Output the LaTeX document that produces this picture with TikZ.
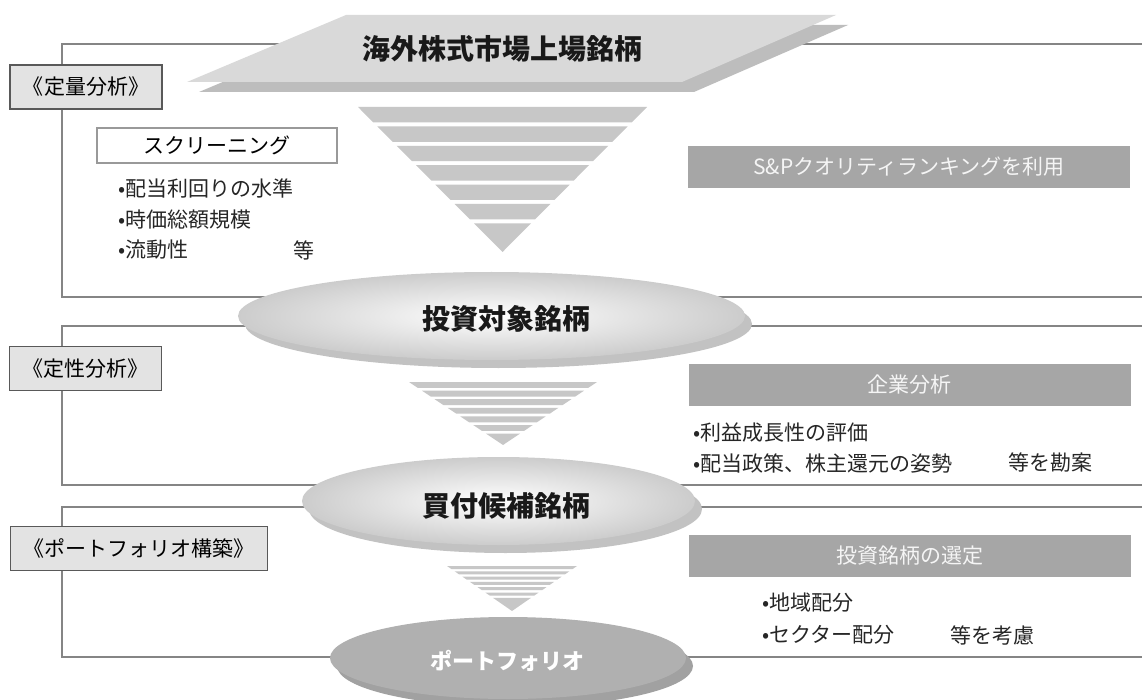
\documentclass[tikz,border=0pt]{standalone}
\usepackage{fontspec}
\setmainfont{Noto Sans CJK JP}
\usetikzlibrary{shapes.geometric,shadows}

\begin{document}
\begin{tikzpicture}[x=1pt,y=-1pt]
\tikzstyle{frame}=[draw=black!48, line width=2pt]
\tikzstyle{stage}=[rectangle, draw=black!65, line width=1.5pt, fill=black!11, minimum height=44pt, inner xsep=13pt, inner ysep=0pt, font=\fontsize{21}{24}\selectfont]
\tikzstyle{screen}=[rectangle, draw=black!40, line width=1.2pt, fill=white, minimum width=240pt, minimum height=35pt, font=\fontsize{21}{24}\selectfont]
\tikzstyle{bar}=[rectangle, fill=black!35, text=black!4, minimum width=442pt, minimum height=42pt, inner sep=0pt, font=\fontsize{21}{24}\selectfont]
\tikzstyle{item}=[anchor=west, inner sep=0pt, text=black!85, font=\fontsize{21}{24}\selectfont]
\tikzstyle{funnel}=[fill=black!22]
\tikzstyle{disc}=[ellipse, inner sep=0pt, inner color=white, outer color=black!20, drop shadow={shadow xshift=7pt, shadow yshift=-8pt, fill=black!24, opacity=1}]
\tikzstyle{darkdisc}=[ellipse, inner sep=0pt, fill=black!31, drop shadow={shadow xshift=7pt, shadow yshift=-8pt, fill=black!37, opacity=1}]
\tikzstyle{big}=[inner sep=0pt, text=black!90, font=\bfseries\fontsize{28}{30}\selectfont]
\useasboundingbox (0,0) rectangle (1142,700);
\fill[white] (0,0) rectangle (1142,700);
% brackets of the three steps
\draw[frame] (1142,44) -- (62,44) -- (62,297) -- (1142,297);
\draw[frame] (1142,326) -- (62,326) -- (62,485) -- (1142,485);
\draw[frame] (1142,507) -- (62,507) -- (62,657) -- (1142,657);
% listed stocks plate
\fill[black!26] (199,92) -- (358,25) -- (848,25) -- (694,92) -- cycle;
\fill[black!15] (187,82) -- (346,15) -- (836,15) -- (682,82) -- cycle;
\node[big] (src) at (502,49) {海外株式市場上場銘柄};
% funnels
\foreach \cx/\yt/\hw/\ya/\p/\g in {502.5/107/144.5/252/19.4/4, 503/382/94/445/8.6/2.7, 512/566/65/611/5.3/2.3}{
  \pgfmathsetmacro\k{\hw/(\ya-\yt)}
  \foreach \i in {0,...,5}{
    \pgfmathsetmacro\ys{\yt+\i*\p}
    \pgfmathsetmacro\ye{\ys+\p-\g}
    \pgfmathsetmacro\ws{\k*(\ya-\ys)}
    \pgfmathsetmacro\we{\k*(\ya-\ye)}
    \fill[funnel] (\cx-\ws,\ys) -- (\cx+\ws,\ys) -- (\cx+\we,\ye) -- (\cx-\we,\ye) -- cycle;
  }
  \pgfmathsetmacro\ys{\yt+6*\p}
  \pgfmathsetmacro\ws{\k*(\ya-\ys)}
  \fill[funnel] (\cx-\ws,\ys) -- (\cx+\ws,\ys) -- (\cx,\ya) -- cycle;
}
% discs
\node[disc, minimum width=507pt, minimum height=88pt] (pool) at (491.5,316) {};
\node[big] (poolt) at ([xshift=15pt,yshift=-3pt]pool.center) {投資対象銘柄};
\node[disc, minimum width=393pt, minimum height=88pt] (cand) at (498.5,501) {};
\node[big] (candt) at ([xshift=8pt,yshift=-5pt]cand.center) {買付候補銘柄};
\node[darkdisc, minimum width=356pt, minimum height=82pt] (pf) at (508,658) {};
\node[big, text=white, font=\bfseries\fontsize{22}{24}\selectfont] (pft) at ([xshift=-1pt,yshift=-3pt]pf.center) {ポートフォリオ};
% step labels
\node[stage] (s1) at (86,87) {《定量分析》};
\node[stage] (s2) at (85.5,368.5) {《定性分析》};
\node[stage] (s3) at (139,548.5) {《ポートフォリオ構築》};
% left notes
\node[screen] (scr) at (217,145.5) {スクリーニング};
\node[item] (l1) at (118,188) {•配当利回りの水準};
\node[item] (l2) at (118,220) {•時価総額規模};
\node[item] (l3) at (118,250) {•流動性};
\node[item] (l4) at (293,250) {等};
% right notes
\node[bar] (b1) at (909,167) {S\&Pクオリティランキングを利用};
\node[bar] (b2) at (909.5,385) {企業分析};
\node[item] (r1) at (693,433) {•利益成長性の評価};
\node[item] (r2) at (693,463) {•配当政策、株主還元の姿勢};
\node[item] (r3) at (1008,463) {等を勘案};
\node[bar] (b3) at (909.5,556) {投資銘柄の選定};
\node[item] (r4) at (762,603) {•地域配分};
\node[item] (r5) at (762,635) {•セクター配分};
\node[item] (r6) at (950,635) {等を考慮};
\end{tikzpicture}
\end{document}
